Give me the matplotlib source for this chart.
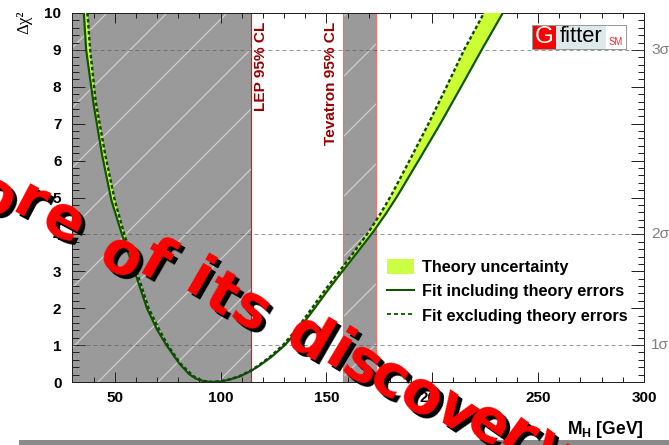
import numpy as np
import matplotlib
matplotlib.use("Agg")
import matplotlib.pyplot as plt
from matplotlib.patches import Patch, Rectangle
from matplotlib.lines import Line2D
from matplotlib.ticker import MultipleLocator
from matplotlib.font_manager import FontProperties

W, H, DPI = 669, 445, 180


def pt(px):
    # pixel size -> points at this dpi
    return px * 72.0 / DPI


def fx(x):
    return x / W


def fy(y):
    return 1 - y / H


plt.rcParams['font.family'] = ['Liberation Sans', 'DejaVu Sans']
plt.rcParams['mathtext.fontset'] = 'custom'
plt.rcParams['mathtext.rm'] = 'Liberation Sans'
plt.rcParams['mathtext.bf'] = 'Liberation Sans:bold'
plt.rcParams['mathtext.it'] = 'Liberation Sans:italic'
plt.rcParams['hatch.linewidth'] = pt(1.2)
plt.rcParams['lines.scale_dashes'] = False

# --- data ---
# fit including theory errors (solid)
m_incl = [35.4, 36.5, 40, 44, 48.4, 53.4, 59.4, 65.2, 70, 74.4, 80.5, 85, 88, 92, 96,
          100, 104, 109, 114.4, 118.5, 124, 130.4, 137.2, 143.8, 150.6, 157.8, 165.2,
          172.2, 178.2, 183.6, 193.8, 203.8, 213.6, 223.3, 233.3]
chi_incl = [10, 9, 7.54, 6.16, 4.93, 4, 3, 2, 1.42, 1, 0.5, 0.22, 0.1, 0.02, 0,
            0.015, 0.06, 0.15, 0.3, 0.45, 0.68, 1, 1.45, 1.95, 2.48, 3.02, 3.56,
            4.08, 4.57, 5.05, 6.03, 7, 8, 9, 10]
# fit excluding theory errors (dashed)
m_excl = [37.1, 38.4, 41, 45.5, 50, 54.5, 60.3, 66, 71, 75, 81, 86, 88.5, 92, 96,
          100, 104, 108.6, 113.9, 118, 123.3, 129.5, 136.2, 142.5, 149.2, 156.4, 163.5,
          170.1, 175.6, 180.5, 189.5, 198.2, 206.7, 215, 224.4]
chi_excl = [10, 9, 7.6, 6.16, 4.93, 4, 3, 2, 1.42, 1, 0.5, 0.22, 0.1, 0.03, 0,
            0.02, 0.07, 0.15, 0.3, 0.45, 0.68, 1, 1.45, 1.95, 2.48, 3.02, 3.56,
            4.08, 4.57, 5.05, 6.03, 7, 8, 9, 10]

lep_limit = 114.4
tev_lo, tev_hi = 158, 173.5
sigma_levels = [1, 4, 9]
sigma_labels = ['1σ', '2σ', '3σ']
legend_labels = ['Theory uncertainty', 'Fit including theory errors',
                 'Fit excluding theory errors']

# slide overlay letters: char, centre x, centre y (pixels), rotation
overlay = [('o', -6, 197, -28), ('r', 30, 203, -28), ('e', 63, 222, -28),
           ('o', 121, 258, -30), ('f', 155, 262, -30),
           ('i', 197, 282, -30), ('t', 221, 296, -30), ('s', 251, 311, -30),
           ('d', 308, 339, -30), ('i', 338, 354, -31), ('s', 362, 366, -31),
           ('c', 388, 379, -32), ('o', 421, 397, -33), ('v', 455, 412, -34),
           ('e', 488, 425, -35), ('r', 517, 437, -36), ('y', 551, 452, -37)]

BAND = '#ccff33'
GREEN = '#0f5500'
GREY_FILL = '#9a9a9a'
DARKRED = '#990000'

fig = plt.figure(figsize=(W / DPI, H / DPI), dpi=DPI)
ax = fig.add_axes([fx(72.4), fy(382), (644 - 72.4) / W, (382 - 13) / H])
ax.set_xlim(30, 300)
ax.set_ylim(0, 10)

# excluded regions
ax.axvspan(30, lep_limit, facecolor=GREY_FILL, edgecolor='#d0d0d0', hatch='/', lw=0, zorder=1)
ax.axvspan(tev_lo, tev_hi, facecolor=GREY_FILL, edgecolor='#d0d0d0', hatch='/', lw=0, zorder=1)
ax.axvline(lep_limit, color='#ee1111', lw=pt(1.2), zorder=2)
ax.axvline(tev_lo, color='#f07070', lw=pt(1.2), zorder=2)
ax.axvline(tev_hi, color='#f07070', lw=pt(1.2), zorder=2)

for lev in sigma_levels:
    ax.axhline(lev, color='#555555', alpha=0.6, lw=pt(1), dashes=(pt(4), pt(3)), zorder=2)

ax.fill(np.r_[m_incl, m_excl[::-1]], np.r_[chi_incl, chi_excl[::-1]],
        color=BAND, lw=0, zorder=3)
ax.plot(m_incl, chi_incl, color=GREEN, lw=pt(2.2), zorder=4)
ax.plot(m_excl, chi_excl, color='#114411', lw=pt(2.4), dashes=(pt(3.5), pt(2.5)), zorder=4)

ax.text(119.1, 0.976, 'LEP 95% CL', transform=ax.get_xaxis_transform(), rotation=90,
        ha='center', va='top', color=DARKRED, fontsize=pt(15.4), fontweight='bold', zorder=5)
ax.text(152.2, 0.976, 'Tevatron 95% CL', transform=ax.get_xaxis_transform(), rotation=90,
        ha='center', va='top', color=DARKRED, fontsize=pt(15.4), fontweight='bold', zorder=5)

for lev, lab in zip(sigma_levels, sigma_labels):
    ax.text(1 + 7 / 571.6, lev, lab, transform=ax.get_yaxis_transform(), ha='left',
            va='center', color='#808080', fontsize=pt(15.5), clip_on=False)

# ticks, ROOT style
ax.xaxis.set_major_locator(MultipleLocator(50))
ax.xaxis.set_minor_locator(MultipleLocator(10))
ax.yaxis.set_major_locator(MultipleLocator(1))
ax.yaxis.set_minor_locator(MultipleLocator(0.2))
ax.tick_params(which='both', direction='in', top=True, right=True, width=pt(1), color='#222222')
ax.tick_params(axis='x', which='major', length=pt(10), pad=pt(9), labelsize=pt(15.3))
ax.tick_params(axis='x', which='minor', length=pt(5))
ax.tick_params(axis='y', which='major', length=pt(13), pad=pt(11), labelsize=pt(15.3))
ax.tick_params(axis='y', which='minor', length=pt(6.5))
for lbl in ax.get_xticklabels() + ax.get_yticklabels():
    lbl.set_fontweight('bold')
for sp in ax.spines.values():
    sp.set_linewidth(pt(1))
    sp.set_color('#222222')

fig.text(fx(24), fy(11), 'Δχ²', rotation=90, ha='center', va='top',
         family='Liberation Serif', fontsize=pt(17))
fig.text(fx(644), fy(434), r'$\mathbf{M_H}$ [GeV]', ha='right', va='baseline',
         fontweight='bold', fontsize=pt(17.5))

handles = [Patch(facecolor='#ccff44', edgecolor='none'),
           Line2D([], [], color=GREEN, lw=pt(2)),
           Line2D([], [], color='#226611', lw=pt(2), dashes=(pt(4), pt(3)))]
ax.legend(handles, legend_labels, loc='upper left', bbox_to_anchor=(fx(387), fy(259)),
          bbox_transform=fig.transFigure, frameon=False, borderpad=0, borderaxespad=0,
          handlelength=1.66, handleheight=1.05, handletextpad=0.47, labelspacing=0.5,
          prop=FontProperties(family='Liberation Sans', weight='bold', size=pt(16.3)))

# Gfitter logo
fig.add_artist(Rectangle((fx(532), fy(49)), 24 / W, 24 / H, transform=fig.transFigure,
                         facecolor='#ff0000', lw=0))
fig.add_artist(Rectangle((fx(556), fy(49)), 50 / W, 24 / H, transform=fig.transFigure,
                         facecolor='#dde9ea', lw=0))
fig.add_artist(Rectangle((fx(606), fy(49)), 20 / W, 24 / H, transform=fig.transFigure,
                         facecolor='white', lw=0))
fig.add_artist(Rectangle((fx(532), fy(49)), 94 / W, 24 / H, transform=fig.transFigure,
                         facecolor='none', edgecolor='#999999', lw=pt(1)))
fig.text(fx(544), fy(37), 'G', color='white', ha='center', va='center', fontsize=pt(24))
fig.text(fx(581.5), fy(37), 'fitter', color='black', ha='center', va='center', fontsize=pt(22))
fig.text(fx(616), fy(42), 'SM', color='#ff2020', ha='center', va='center', fontsize=pt(9.5))

# grey bar of the slide
fig.add_artist(Rectangle((fx(19), 0), 1 - fx(19), 5 / H, transform=fig.transFigure,
                         facecolor='#8a8a8a', lw=0))

# slide overlay: red text with a black shadow
ov_prop = FontProperties(family='DejaVu Sans', weight='bold', size=pt(58))
for ch, x, y, rot in overlay:
    fig.text(fx(x + 4), fy(y + 4), ch, color='black', ha='center', va='center',
             rotation=rot, rotation_mode='anchor', fontproperties=ov_prop, zorder=10)
    fig.text(fx(x), fy(y), ch, color='#ff0000', ha='center', va='center',
             rotation=rot, rotation_mode='anchor', fontproperties=ov_prop, zorder=11)

fig.savefig('out.png', dpi=DPI)
